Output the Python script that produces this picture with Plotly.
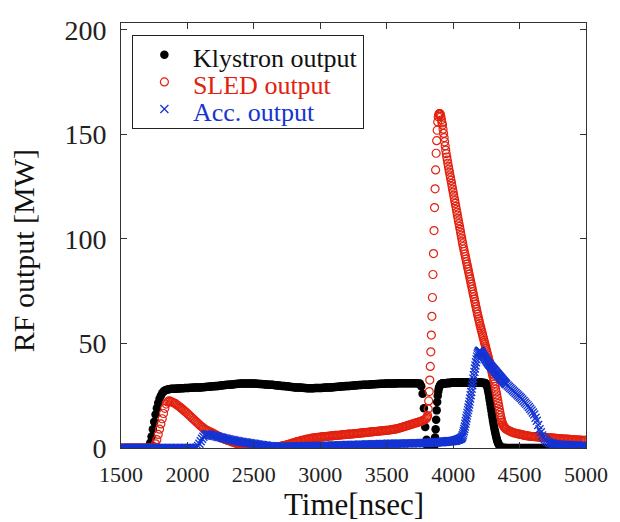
import plotly.graph_objects as go

# ---- sampling grid (ns): 10 ns, with 4 ns around the SLED pulse ----
TIME_NS = list(range(1500, 3800, 10)) + list(range(3800, 4400, 4)) + list(range(4400, 5001, 10))

# ---- Klystron output [MW] ----
KLYSTRON = [
    0,0,0,0,0,0,0,0,0,0,
    0,0,0,0,0,0,0,0,0,0,
    0,0.5,2.5,5.5,9,12.5,16,19,21.5,23.5,
    25,26.2,27,27.5,27.8,28,28.1,28.2,28.3,28.3,
    28.4,28.4,28.5,28.5,28.5,28.6,28.6,28.6,28.7,28.7,
    28.7,28.7,28.8,28.8,28.8,28.9,28.9,28.9,29,29,
    29,29.1,29.1,29.2,29.2,29.3,29.3,29.4,29.4,29.5,
    29.5,29.6,29.6,29.7,29.8,29.9,29.9,30,30.1,30.1,
    30.2,30.3,30.3,30.4,30.4,30.5,30.6,30.6,30.7,30.7,
    30.8,30.8,30.8,30.8,30.8,30.8,30.8,30.8,30.8,30.8,
    30.8,30.8,30.7,30.7,30.6,30.6,30.6,30.5,30.5,30.4,
    30.4,30.3,30.3,30.2,30.2,30.1,30,30,29.9,29.9,
    29.8,29.7,29.7,29.6,29.5,29.5,29.4,29.3,29.2,29.2,
    29.1,29,29,29,28.9,28.9,28.8,28.8,28.7,28.7,
    28.6,28.6,28.6,28.6,28.6,28.6,28.7,28.7,28.7,28.7,
    28.7,28.7,28.8,28.8,28.9,28.9,28.9,29,29,29.1,
    29.1,29.2,29.2,29.3,29.3,29.4,29.4,29.5,29.5,29.6,
    29.6,29.7,29.7,29.8,29.8,29.9,29.9,30,30,30.1,
    30.1,30.1,30.2,30.2,30.3,30.3,30.3,30.4,30.4,30.5,
    30.5,30.5,30.6,30.6,30.6,30.7,30.7,30.7,30.7,30.8,
    30.8,30.8,30.8,30.9,30.9,30.9,30.9,30.9,31,31,
    31,31,31,31,31,31,31,31,31,31,
    31,31,31,31,30.9,30.8,29.5,26,19,10,
    # 3800-4396 (4 ns)
    4,1.5,0.5,0,0,0,0,0,0,0,0,0,0,0,0.5,2,5,9,13.5,18,22,25,27,28.5,29.3,29.8,30.2,30.5,30.7,30.8,
    30.9,30.9,31,31,31,31,31,31,31.1,31.1,31.1,31.1,31.1,31.1,31.1,31.1,31.2,31.2,31.2,31.2,
    31.2,31.2,31.2,31.2,31.2,31.2,31.2,31.2,31.2,31.2,31.2,31.2,31.3,31.3,31.3,31.3,31.3,31.3,31.3,31.3,
    31.3,31.3,31.3,31.3,31.3,31.3,31.3,31.3,31.3,31.3,31.3,31.3,31.3,31.3,31.3,31.3,31.3,31.3,31.3,31.3,
    31.3,31.3,31.3,31.3,31.3,31.3,31.3,31.3,31.3,31.3,31.3,31.3,31.2,31.2,31.2,31.2,31.1,31.1,31.1,31.1,
    31.1,30.9,30.7,30.2,29.5,28.5,27.2,25.8,24.3,22.7,21,19.4,17.8,16.2,14.6,13,11.6,10.2,8.9,7.7,
    6.5,5.4,4.4,3.5,2.8,2.2,1.7,1.2,0.8,0.5,0.3,0.2,0.1,0,0,0,0,0,0,0,
    # 4400-5000
    0,0,0,0,0,0,0,0,0,0,
    0,0,0,0,0,0,0,0,0,0,
    0,0,0,0,0,0,0,0,0,0,
    0,0,0,0,0,0,0,0,0,0,
    0,0,0,0,0,0,0,0,0,0,
    0,0,0,0,0,0,0,0,0,0,
    0,
]

# ---- SLED output [MW] ----
SLED = [
    0,0,0,0,0,0,0,0,0,0,
    0,0,0,0,0,0,0,0,0,0,
    0,0,0,0,0,0.5,2,4,6.5,9,
    11.5,14,16.5,19,21,22,22.5,22.4,22.1,21.8,
    21.5,21.2,20.7,20.2,19.7,19.2,18.7,18.2,17.6,17.1,
    16.5,15.9,15.3,14.7,14.1,13.5,12.9,12.3,11.7,11.1,
    10.5,10,9.6,9.1,8.7,8.3,8,7.7,7.4,7.1,
    6.8,6.4,6.1,5.7,5.4,5,4.7,4.5,4.2,4,
    3.7,3.5,3.3,3.1,2.8,2.6,2.4,2.2,2,1.9,
    1.7,1.6,1.4,1.3,1.1,1,0.9,0.8,0.7,0.6,
    0.5,0.4,0.4,0.3,0.3,0.2,0.2,0.2,0.1,0.1,
    0.1,0.1,0.1,0.2,0.2,0.3,0.4,0.5,0.6,0.7,
    0.8,0.9,1.1,1.2,1.4,1.5,1.7,1.9,2.1,2.3,
    2.5,2.7,2.9,3.1,3.2,3.4,3.6,3.7,3.9,4,
    4.2,4.3,4.4,4.6,4.7,4.8,4.9,5,5.1,5.1,
    5.2,5.3,5.4,5.4,5.5,5.6,5.6,5.7,5.8,5.8,
    5.9,6,6,6.1,6.1,6.2,6.3,6.3,6.4,6.4,
    6.5,6.6,6.6,6.7,6.7,6.8,6.9,6.9,7,7,
    7.1,7.2,7.2,7.3,7.4,7.5,7.5,7.6,7.7,7.7,
    7.8,7.9,7.9,8,8.1,8.1,8.2,8.3,8.3,8.4,
    8.4,8.5,8.6,8.7,8.8,8.9,9,9.1,9.3,9.4,
    9.6,9.8,10,10.2,10.4,10.6,10.8,11,11.2,11.4,
    11.6,11.8,12,12.2,12.4,12.6,12.8,13.1,13.4,13.8,
    # 3800-4396 (4 ns)
    14.2,14.8,15.5,18.7,22.5,27,32.5,39,46,54,63,72,83,93,104,115,124,133,141,147,
    152,156,158.5,159.5,160,160,159.5,158.5,157,155.5,
    154.5,152.5,150.5,148.5,146.5,144.5,142.5,140.8,139.2,137.7,136.2,134.8,133.4,132,130.6,129.3,128,126.6,125.2,123.8,
    122.4,121,119.6,118.3,117,115.6,114.2,112.8,111.4,110,108.6,107.3,106,104.6,103.2,101.8,100.4,99,97.7,96.4,
    95.2,94,92.8,91.6,90.4,89.2,88,86.8,85.6,84.4,83.2,82,80.8,79.6,78.4,77.2,76,74.8,73.6,72.4,
    71.2,70,68.8,67.6,66.4,65.2,64,62.9,61.8,60.7,59.6,58.5,57.5,56.5,55.5,54.5,53.5,52.5,51.5,50.5,
    49.5,48.5,47.5,46.5,45.5,44.5,43.5,42.5,41.5,40.5,39.5,38.5,37.5,36.4,35.3,34.2,33.1,32,30.8,29.5,
    28.2,26.8,25.4,24,22.6,21.2,19.8,18.4,17,15.7,14.5,13.4,12.4,11.6,11,10.5,10.1,9.8,9.5,9.3,
    # 4400-5000
    9,8.6,8.3,8,7.7,7.4,7.2,7,6.9,6.7,
    6.6,6.5,6.3,6.2,6,5.9,5.8,5.7,5.6,5.5,
    5.5,5.4,5.4,5.3,5.3,5.2,5.2,5.1,5.1,5,
    5,4.9,4.9,4.8,4.8,4.7,4.7,4.6,4.6,4.5,
    4.5,4.4,4.4,4.3,4.3,4.2,4.2,4.1,4.1,4,
    4,3.9,3.9,3.9,3.8,3.8,3.8,3.7,3.7,3.7,
    3.6,
]

# ---- Accelerator output [MW] ----
ACC = [
    0,0,0,0,0,0,0,0,0,0,
    0,0,0,0,0,0,0,0,0,0,
    0,0,0,0,0,0,0,0,0,0,
    0,0,0,0,0,0,0,0,0,0,
    0,0,0,0,0,0,0,0,0,0,
    0,0,0,0,0,0,0,0.2,1,2,
    3.2,4.4,5.4,6.1,6.5,6.6,6.5,6.3,6.1,5.9,
    5.8,5.7,5.5,5.4,5.2,5.1,4.9,4.8,4.6,4.5,
    4.3,4.2,4,3.9,3.8,3.6,3.5,3.4,3.3,3.1,
    3,2.9,2.8,2.7,2.6,2.5,2.4,2.3,2.2,2.1,
    2,1.9,1.8,1.7,1.6,1.5,1.4,1.3,1.2,1.2,
    1.1,1,0.9,0.9,0.8,0.7,0.7,0.6,0.6,0.6,
    0.6,0.6,0.6,0.6,0.6,0.6,0.6,0.6,0.7,0.7,
    0.7,0.7,0.7,0.7,0.8,0.8,0.8,0.8,0.8,0.8,
    0.9,0.9,0.9,0.9,0.9,0.9,1,1,1,1,
    1,1,1,1,1.1,1.1,1.1,1.1,1.1,1.2,
    1.2,1.2,1.2,1.2,1.3,1.3,1.3,1.3,1.3,1.4,
    1.4,1.4,1.4,1.4,1.5,1.5,1.5,1.5,1.5,1.6,
    1.6,1.6,1.6,1.6,1.7,1.7,1.7,1.7,1.7,1.8,
    1.8,1.8,1.8,1.8,1.8,1.9,1.9,1.9,1.9,1.9,
    1.9,2,2,2,2,2,2,2,2.1,2.1,
    2.1,2.1,2.1,2.1,2.2,2.2,2.2,2.2,2.2,2.2,
    2.3,2.3,2.3,2.3,2.3,2.3,2.4,2.4,2.4,2.4,
    # 3800-4396 (4 ns)
    2.4,2.4,2.4,2.5,2.5,2.5,2.5,2.5,2.5,2.6,2.6,2.6,2.6,2.6,2.6,
    2.7,2.7,2.7,2.7,2.7,2.7,2.8,2.8,2.8,2.8,2.8,2.8,2.9,2.9,2.9,
    2.9,2.9,3,3,3,3,3.1,3.1,3.1,3.1,3.2,3.2,3.2,3.2,3.3,3.3,3.3,3.3,3.3,3.4,
    3.4,3.4,3.5,3.5,3.6,3.6,3.7,3.8,3.9,4,4.1,4.2,4.3,4.4,4.5,4.6,5,5.4,6.1,7,
    8,9.1,10.3,11.6,12.9,14.2,15.5,16.8,18.1,19.4,20.8,22.2,23.7,25.2,26.8,28.4,30,31.6,33.2,34.8,
    36.4,38,39.5,41,42.4,43.7,44.8,45.6,46.1,46.4,46.5,46.4,46.1,45.8,45.4,45,44.6,44.2,43.8,43.4,
    43,42.6,42.2,41.8,41.4,41,40.6,40.3,40,39.7,39.4,39.1,38.8,38.5,38.2,37.9,37.6,37.3,37,36.7,
    36.4,36.1,35.8,35.5,35.2,34.9,34.6,34.3,34,33.7,33.4,33.1,32.8,32.5,32.2,31.9,31.6,31.3,31,30.7,
    # 4400-5000
    30.5,29.9,29.3,28.7,28.1,27.5,26.9,26.3,25.7,25.1,
    24.5,23.9,23.2,22.5,21.8,21.1,20.4,19.6,18.8,17.9,
    17,16,14.5,13,11,9,7.5,6,5,4.2,
    3.6,3.1,2.7,2.4,2.2,2,1.9,1.8,1.7,1.6,
    1.6,1.5,1.5,1.4,1.4,1.4,1.3,1.3,1.3,1.3,
    1.2,1.2,1.2,1.2,1.2,1.1,1.1,1.1,1.1,1.1,
    1,
]

X_TICKS = [1500, 2000, 2500, 3000, 3500, 4000, 4500, 5000]
Y_TICKS = [0, 50, 100, 150, 200]

assert len(KLYSTRON) == len(TIME_NS) == len(SLED) == len(ACC), (len(TIME_NS), len(KLYSTRON), len(SLED), len(ACC))

RED = "#e2210f"
BLUE = "#1434d4"
FONT = "Liberation Serif, Times New Roman, serif"
LEG_PX = 26


def legend_name(label, color):
    return ('<span style="font-size:%dpx;color:%s;baseline-shift:-5px">%s</span>'
            % (LEG_PX, color, label))


fig = go.Figure()
fig.add_trace(go.Scatter(
    x=TIME_NS, y=KLYSTRON, mode="markers", name=legend_name("Klystron output", "#111111"),
    marker=dict(symbol="circle", size=8.5, color="black", line=dict(width=0)),
))
fig.add_trace(go.Scatter(
    x=TIME_NS, y=SLED, mode="markers", name=legend_name("SLED output", RED),
    marker=dict(symbol="circle-open", size=8, color=RED, line=dict(width=1.2, color=RED)),
))
fig.add_trace(go.Scatter(
    x=TIME_NS, y=ACC, mode="markers", name=legend_name("Acc. output", BLUE),
    marker=dict(symbol="x-thin", size=8, color=BLUE, line=dict(width=1.3, color=BLUE)),
))

axis_common = dict(
    showgrid=False, zeroline=False, showline=True, linecolor="#333333", linewidth=1,
    mirror="ticks", ticks="inside", ticklen=6, tickwidth=1, tickcolor="#333333",
)
fig.update_xaxes(range=[1500, 5000], tickvals=X_TICKS, ticktext=[str(v) for v in X_TICKS],
                 tickfont=dict(family=FONT, size=22, color="#222222"),
                 ticklabelstandoff=7, **axis_common)
fig.update_yaxes(range=[0, 203.3], tickvals=Y_TICKS, ticktext=[str(v) for v in Y_TICKS],
                 tickfont=dict(family=FONT, size=28, color="#222222"),
                 ticklabelstandoff=8, **axis_common)

fig.update_layout(
    width=620, height=522,
    margin=dict(l=121, r=28, t=23, b=74),
    paper_bgcolor="white", plot_bgcolor="white",
    font=dict(family=FONT, color="#111111"),
    showlegend=True,
    legend=dict(
        x=0.0234, y=0.971, xanchor="left", yanchor="top",
        bgcolor="white", bordercolor="#222222", borderwidth=1,
        itemwidth=47, indentation=3,
        font=dict(family=FONT, size=18.5, color="#111111"),
    ),
    annotations=[
        dict(text="Time[nsec]", xref="paper", yref="paper", x=0.5, y=-0.134,
             xanchor="center", yanchor="middle", showarrow=False,
             font=dict(family=FONT, size=31, color="#111111")),
        dict(text="RF output [MW]", xref="paper", yref="paper", x=-0.2102, y=0.4635,
             xanchor="center", yanchor="middle", showarrow=False, textangle=-90,
             font=dict(family=FONT, size=30, color="#111111")),
    ],
)

fig.write_html("out.html", config={"displayModeBar": False},
               post_script="document.body.style.margin='0px';")
